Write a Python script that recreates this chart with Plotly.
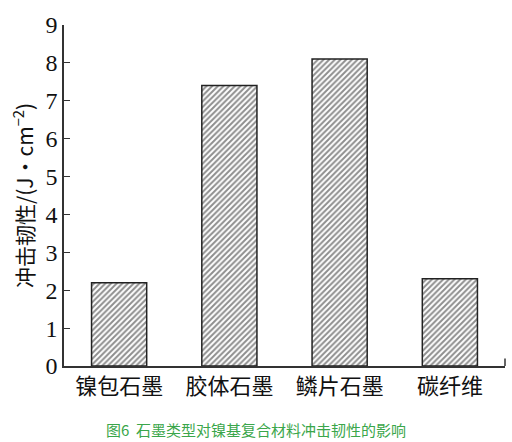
import plotly.graph_objects as go

categories = ["镍包石墨", "胶体石墨", "鳞片石墨", "碳纤维"]
impact = [2.2, 7.4, 8.1, 2.3]
y_ticks = list(range(0, 10))

serif = "Liberation Serif, Times New Roman, serif"
cjk = "Noto Sans CJK SC, sans-serif"

fig = go.Figure()

fig.add_trace(
    go.Bar(
        x=categories,
        y=impact,
        marker=dict(
            color="white",
            line=dict(color="#222222", width=1.5),
            pattern=dict(shape="/", size=4, solidity=0.5, fgcolor="#1e1e1e", bgcolor="white"),
        ),
        width=0.5,
    )
)

# small upward tick at the right end of the x axis
fig.add_shape(
    type="line", xref="paper", yref="y",
    x0=1, x1=1, y0=0, y1=0.2,
    line=dict(color="#333333", width=1.5),
)

fig.update_xaxes(
    range=[-0.5, 3.5],
    showline=True,
    linecolor="#333333",
    linewidth=1.5,
    ticks="",
    tickfont=dict(family=cjk, size=22, color="#111111"),
    showgrid=False,
)
fig.update_yaxes(
    range=[0, 9],
    tickvals=y_ticks,
    showline=True,
    linecolor="#333333",
    linewidth=1.5,
    ticks="inside",
    ticklen=6,
    tickwidth=1.2,
    tickcolor="#333333",
    tickfont=dict(family=serif, size=24, color="#111111"),
    showgrid=False,
    zeroline=False,
    title=dict(
        text="冲击韧性/(J·cm<sup>−2</sup>)",
        font=dict(family=cjk, size=21, color="#111111"),
        standoff=6,
    ),
)

fig.add_annotation(
    text="图6  石墨类型对镍基复合材料冲击韧性的影响",
    xref="paper", yref="paper",
    x=0.435, y=-0.185,
    xanchor="center", yanchor="middle",
    showarrow=False,
    font=dict(family=cjk, size=15, color="#3aa64a"),
)

fig.update_layout(
    width=512,
    height=442,
    margin=dict(l=64, r=7, t=25, b=76),
    plot_bgcolor="white",
    paper_bgcolor="white",
    showlegend=False,
)

fig.write_html(
    "out.html",
    config={"displayModeBar": False},
    post_script="document.body.style.margin='0';",
)
